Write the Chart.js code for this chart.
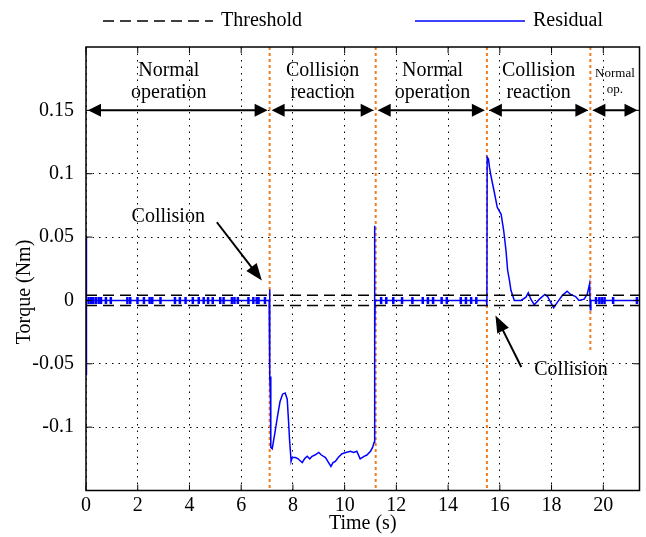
<!DOCTYPE html>
<html>
<head>
<meta charset="utf-8">
<script src="https://cdn.jsdelivr.net/npm/chart.js@4.4.1/dist/chart.umd.min.js"></script>
<style>
  html, body { margin: 0; padding: 0; background: #fff; }
  #wrap { width: 646px; height: 537px; }
</style>
</head>
<body>
<div id="wrap"><canvas id="torqueChart" width="646" height="537"></canvas></div>
<script>
// axis ranges and ticks
const xTicks = [0, 2, 4, 6, 8, 10, 12, 14, 16, 18, 20];
const yTicks = [-0.1, -0.05, 0, 0.05, 0.1, 0.15];
const xMax = 21.4;
const yMin = -0.15;
const yMax = 0.2;

// detection threshold (+/-)
const threshold = 0.004;

// residual torque
const residualTime = [0, 0.005, 0.03, 7.08, 7.10, 7.11, 7.13, 7.14, 7.15, 7.2, 7.3, 7.4, 7.5, 7.6, 7.7, 7.78, 7.83, 7.87, 7.93, 7.97,
  8.1, 8.2, 8.36, 8.45, 8.55, 8.65, 8.74, 8.85, 9.0, 9.1, 9.26, 9.38, 9.47, 9.55, 9.64, 9.75, 9.9, 10.05, 10.22, 10.35,
  10.47, 10.6, 10.75, 10.86, 11.0, 11.08, 11.14, 11.15, 11.16, 11.165, 11.17, 11.18, 15.48, 15.5, 15.51, 15.56, 15.6, 15.67,
  15.8, 15.9, 16.05, 16.15, 16.24, 16.3, 16.37, 16.43, 16.56, 16.82, 17.01, 17.1, 17.2, 17.33, 17.53, 17.74, 17.85, 18.08,
  18.23, 18.42, 18.6, 18.74, 18.93, 19.06, 19.26, 19.38, 19.47, 19.5, 19.52, 21.4];
const residualTorque = [0.05, -0.059, 0, 0, 0.0087, -0.06, -0.077, -0.06, -0.116, -0.117, -0.105, -0.092, -0.08, -0.074, -0.073, -0.078, -0.095, -0.11, -0.127, -0.124,
  -0.124, -0.125, -0.128, -0.125, -0.123, -0.125, -0.123, -0.122, -0.12, -0.122, -0.124, -0.128, -0.131, -0.128, -0.127, -0.124, -0.121, -0.12, -0.119, -0.12,
  -0.119, -0.125, -0.123, -0.122, -0.119, -0.116, -0.112, 0.059, -0.031, 0.002, -0.03, 0, 0, -0.0045, 0.113, 0.1115, 0.105, 0.097,
  0.084, 0.0735, 0.068, 0.055, 0.039, 0.024, 0.016, 0.008, 0, 0, 0.0026, 0.006, 0.001, -0.0034, 0.001, 0.0047, 0.003, -0.0058,
  -0.0013, 0.004, 0.0073, 0.0047, 0.003, 0, 0.001, 0.005, 0.013, -0.0073, 0, 0];

// little jitter marks on the idle residual
const noiseTime = [0.1, 0.19, 0.28, 0.38, 0.49, 0.58, 0.77, 0.96, 1.6, 1.71, 1.99, 2.24, 2.46, 2.56, 2.88, 3.44, 3.63, 3.85,
  4.13, 4.36, 4.55, 4.72, 4.9, 5.19, 5.32, 5.64, 5.74, 5.87, 6.28, 6.47, 6.6, 6.67, 6.92,
  11.41, 11.61, 11.88, 12.22, 12.62, 13.02, 13.22, 13.42, 13.75, 13.95, 14.49, 14.69, 14.89, 15.09,
  19.72, 19.85, 19.95, 20.05, 20.38, 21.3];

// operation phases
const phaseBounds = [0, 7.1, 11.2, 15.5, 19.5, 21.4];
const phaseNames = [['Normal', 'operation'], ['Collision', 'reaction'], ['Normal', 'operation'], ['Collision', 'reaction'], ['Normal', 'op.']];
const phaseLabelX = [3.2, 9.15, 13.4, 17.5, 20.45];
const arrowLevel = 0.15;
const switchLineBottom = [-0.15, -0.15, -0.15, -0.04];

// "Collision" callouts
const calloutText = ['Collision', 'Collision'];
const calloutPos = [[3.18, 0.066], [18.75, -0.055]];
const calloutFrom = [[5.06, 0.0617], [16.83, -0.0525]];
const calloutTo = [[6.8, 0.0157], [15.83, -0.0118]];

const SERIF = '"Liberation Serif", "Times New Roman", serif';
Chart.defaults.font.family = SERIF;
Chart.defaults.font.size = 20;
Chart.defaults.color = '#000';

const datasets = [
  {
    label: 'Threshold',
    data: [{ x: 0, y: threshold }, { x: xMax, y: threshold }],
    borderColor: '#000', borderWidth: 1.5, borderDash: [11, 6], pointRadius: 0
  },
  {
    label: '',
    data: [{ x: 0, y: -threshold }, { x: xMax, y: -threshold }],
    borderColor: '#000', borderWidth: 1.5, borderDash: [11, 6], pointRadius: 0
  },
  {
    label: 'Residual',
    data: residualTime.map((t, i) => ({ x: t, y: residualTorque[i] })),
    borderColor: '#0000ff', borderWidth: 1.5, pointRadius: 0
  },
  {
    label: '',
    data: noiseTime.map(t => ({ x: t, y: 0 })),
    showLine: false, pointStyle: 'line', rotation: 90, pointRadius: 3.5,
    borderColor: '#0000ff', pointBorderWidth: 2.5
  }
];
phaseBounds.slice(1, -1).forEach((b, i) => {
  datasets.push({
    label: '',
    data: [{ x: b, y: yMax }, { x: b, y: switchLineBottom[i] }],
    borderColor: '#f07c1c', borderWidth: 2, borderDash: [3, 3], pointRadius: 0
  });
});

function drawArrowHead(ctx, x1, y1, x2, y2, len, half) {
  const a = Math.atan2(y2 - y1, x2 - x1);
  ctx.beginPath();
  ctx.moveTo(x2, y2);
  ctx.lineTo(x2 - len * Math.cos(a) + half * Math.sin(a), y2 - len * Math.sin(a) - half * Math.cos(a));
  ctx.lineTo(x2 - len * Math.cos(a) - half * Math.sin(a), y2 - len * Math.sin(a) + half * Math.cos(a));
  ctx.closePath();
  ctx.fill();
}

const decorPlugin = {
  id: 'decor',
  afterDatasetsDraw(chart) {
    const { ctx, scales: { x, y } } = chart;
    ctx.save();
    ctx.fillStyle = '#000';
    ctx.strokeStyle = '#000';
    ctx.lineWidth = 2;

    // phase arrows + names
    const ay = y.getPixelForValue(arrowLevel);
    for (let i = 0; i < phaseBounds.length - 1; i++) {
      const x1 = x.getPixelForValue(phaseBounds[i]) + 2;
      const x2 = x.getPixelForValue(phaseBounds[i + 1]) - 2;
      ctx.beginPath();
      ctx.moveTo(x1 + 6, ay);
      ctx.lineTo(x2 - 6, ay);
      ctx.stroke();
      drawArrowHead(ctx, x1, ay, x2, ay, 13, 6.5);
      drawArrowHead(ctx, x2, ay, x1, ay, 13, 6.5);

      const cx = x.getPixelForValue(phaseLabelX[i]);
      const small = i === phaseBounds.length - 2;
      ctx.font = (small ? '13px ' : '20px ') + SERIF;
      ctx.textAlign = 'center';
      ctx.textBaseline = 'alphabetic';
      ctx.fillText(phaseNames[i][0], cx, ay - (small ? 33 : 34));
      ctx.fillText(phaseNames[i][1], cx, ay - (small ? 17 : 12));
    }

    // collision callouts
    ctx.font = '20px ' + SERIF;
    ctx.textBaseline = 'middle';
    for (let i = 0; i < calloutText.length; i++) {
      ctx.fillText(calloutText[i], x.getPixelForValue(calloutPos[i][0]), y.getPixelForValue(calloutPos[i][1]));
      const fx = x.getPixelForValue(calloutFrom[i][0]), fy = y.getPixelForValue(calloutFrom[i][1]);
      const tx = x.getPixelForValue(calloutTo[i][0]), ty = y.getPixelForValue(calloutTo[i][1]);
      const a = Math.atan2(ty - fy, tx - fx);
      ctx.beginPath();
      ctx.moveTo(fx, fy);
      ctx.lineTo(tx - 12 * Math.cos(a), ty - 12 * Math.sin(a));
      ctx.stroke();
      drawArrowHead(ctx, fx, fy, tx, ty, 17, 6.5);
    }
    ctx.restore();
  },
  afterDraw(chart) {
    const { ctx, chartArea: a, scales: { x, y } } = chart;
    ctx.save();
    ctx.strokeStyle = '#000';

    // inward ticks
    ctx.lineWidth = 1;
    ctx.beginPath();
    xTicks.forEach(v => {
      const px = x.getPixelForValue(v);
      ctx.moveTo(px, a.bottom); ctx.lineTo(px, a.bottom - 6);
      ctx.moveTo(px, a.top); ctx.lineTo(px, a.top + 6);
    });
    yTicks.forEach(v => {
      const py = y.getPixelForValue(v);
      ctx.moveTo(a.left, py); ctx.lineTo(a.left + 6, py);
      ctx.moveTo(a.right, py); ctx.lineTo(a.right - 6, py);
    });
    ctx.stroke();

    // frame
    ctx.lineWidth = 1.5;
    ctx.strokeRect(a.left, a.top, a.right - a.left, a.bottom - a.top);

    // y axis title (sits a little below the middle in the original)
    ctx.fillStyle = '#000';
    ctx.font = '20px ' + SERIF;
    ctx.textAlign = 'center';
    ctx.textBaseline = 'middle';
    ctx.translate(25, 292);
    ctx.rotate(-Math.PI / 2);
    ctx.fillText('Torque (Nm)', 0, 0);
    ctx.setTransform(1, 0, 0, 1, 0, 0);

    // legend
    const items = [chart.data.datasets[0], chart.data.datasets[2]];
    const startX = [103, 415];
    const ly = 21;
    ctx.textAlign = 'left';
    items.forEach((ds, i) => {
      ctx.strokeStyle = ds.borderColor;
      ctx.lineWidth = ds.borderWidth;
      ctx.setLineDash(ds.borderDash || []);
      ctx.beginPath();
      ctx.moveTo(startX[i], ly);
      ctx.lineTo(startX[i] + 110, ly);
      ctx.stroke();
      ctx.setLineDash([]);
      ctx.fillText(ds.label, startX[i] + 118, ly);
    });
    ctx.restore();
  }
};

const gridStyle = { color: '#000', lineWidth: 1, drawTicks: false };
const dottedBorder = { display: false, dash: [1.5, 5] };

new Chart(document.getElementById('torqueChart'), {
  type: 'line',
  data: { datasets },
  options: {
    responsive: false,
    animation: false,
    layout: { padding: { top: 47, right: 3, left: 0, bottom: 0 } },
    plugins: { legend: { display: false }, tooltip: { enabled: false } },
    scales: {
      x: {
        type: 'linear',
        min: 0,
        max: xMax,
        afterBuildTicks: s => { s.ticks = xTicks.map(v => ({ value: v })); },
        afterFit: s => { s.height = 46.5; },
        ticks: { padding: 3, callback: v => String(v) },
        grid: gridStyle,
        border: dottedBorder,
        title: { display: true, text: 'Time (s)', padding: { top: 0, bottom: 1 } }
      },
      y: {
        type: 'linear',
        min: yMin,
        max: yMax,
        afterBuildTicks: s => { s.ticks = yTicks.map(v => ({ value: v })); },
        afterFit: s => { s.width = 86; },
        ticks: { padding: 12, callback: v => String(v) },
        grid: gridStyle,
        border: dottedBorder,
        title: { display: false }
      }
    }
  },
  plugins: [decorPlugin]
});
</script>
</body>
</html>
